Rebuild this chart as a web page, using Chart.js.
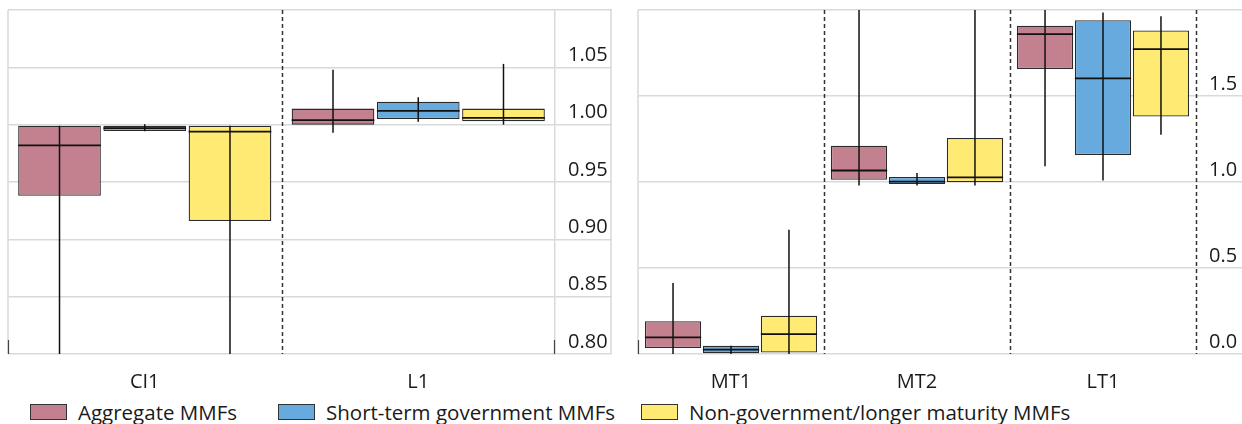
<!DOCTYPE html>
<html>
<head>
<meta charset="utf-8">
<script src="https://cdn.jsdelivr.net/npm/chart.js@4/dist/chart.umd.min.js"></script>
<style>
  body { margin: 0; background: #fff; font-family: "Open Sans", sans-serif; color: #1a1a1a; }
  #wrap { position: relative; width: 1242px; height: 424px; }
  .panel { position: absolute; top: 0; height: 392px; }
  .item { position: absolute; top: 399px; font-size: 20.5px; line-height: 26px; white-space: nowrap; }
  .item span.sw { position: absolute; left: 0; top: 5px; width: 35px; height: 14px; border: 1px solid #333; }
  .item span.tx { margin-left: 48px; }
</style>
</head>
<body>
<div id="wrap">
  <div class="panel" style="left:0;width:612px"><canvas id="left"></canvas></div>
  <div class="panel" style="left:630px;width:612px"><canvas id="right"></canvas></div>
  <div class="item" style="left:30px"><span class="sw" style="background:#c3808e"></span><span class="tx">Aggregate MMFs</span></div>
  <div class="item" style="left:278px"><span class="sw" style="background:#66aade"></span><span class="tx">Short-term government MMFs</span></div>
  <div class="item" style="left:641px"><span class="sw" style="background:#ffeb73"></span><span class="tx">Non-government/longer maturity MMFs</span></div>
</div>
<script>
const categories = ['CI1', 'L1', 'MT1', 'MT2', 'LT1'];

// Aggregate MMFs
const aggMin = [0.70, 0.993, 0.000, 0.980, 1.091];
const aggQ1  = [0.938, 1.000, 0.035, 1.013, 1.657];
const aggMed = [0.982, 1.004, 0.097, 1.067, 1.860];
const aggQ3  = [0.999, 1.014, 0.190, 1.211, 1.909];
const aggMax = [0.999, 1.048, 0.413, 2.30, 2.10];

// Short-term government MMFs
const stgMin = [0.9942, 1.0026, 0.000, 0.980, 1.008];
const stgQ1  = [0.9944, 1.005, 0.000, 0.988, 1.157];
const stgMed = [0.997, 1.012, 0.025, 1.002, 1.602];
const stgQ3  = [0.999, 1.020, 0.048, 1.029, 1.940];
const stgMax = [1.0003, 1.024, 0.048, 1.052, 1.986];

// Non-government/longer maturity MMFs
const ngMin = [0.70, 1.000, 0.000, 0.980, 1.275];
const ngQ1  = [0.916, 1.003, 0.009, 0.998, 1.381];
const ngMed = [0.994, 1.006, 0.116, 1.027, 1.773];
const ngQ3  = [0.999, 1.014, 0.223, 1.256, 1.881];
const ngMax = [0.999, 1.053, 0.723, 2.40, 1.963];

const leftTicks = [0.80, 0.85, 0.90, 0.95, 1.00, 1.05];
const rightTicks = [0.0, 0.5, 1.0, 1.5];

const series = [
  { label: 'Aggregate MMFs', color: '#c3808e', min: aggMin, q1: aggQ1, med: aggMed, q3: aggQ3, max: aggMax },
  { label: 'Short-term government MMFs', color: '#66aade', min: stgMin, q1: stgQ1, med: stgMed, q3: stgQ3, max: stgMax },
  { label: 'Non-government/longer maturity MMFs', color: '#ffeb73', min: ngMin, q1: ngQ1, med: ngMed, q3: ngQ3, max: ngMax }
];

const gridCol = '#d9d9d9';
const font = { family: 'Open Sans', size: 20 };

function makeDatasets(from, to) {
  return series.map(s => ({
    label: s.label,
    data: s.q1.slice(from, to).map((v, i) => [v, s.q3[from + i]]),
    lo: s.min.slice(from, to),
    mid: s.med.slice(from, to),
    hi: s.max.slice(from, to),
    backgroundColor: s.color,
    borderColor: '#2b2b2b',
    borderWidth: 1.3,
    borderSkipped: false,
    categoryPercentage: 0.935,
    barPercentage: 0.97
  }));
}

// whiskers, medians, dashed category dividers
const boxPlugin = {
  id: 'boxes',
  beforeDatasetsDraw(chart, args, opts) {
    const { ctx, chartArea: a, scales: { y } } = chart;
    ctx.save();
    ctx.strokeStyle = gridCol;
    ctx.lineWidth = 1.5;
    ctx.beginPath();
    ctx.moveTo(a.left, a.top); ctx.lineTo(a.left, a.bottom);
    if (opts.outer) { ctx.moveTo(y.right - 1, a.top); ctx.lineTo(y.right - 1, a.bottom); }
    ctx.stroke();
    ctx.restore();
  },
  afterDatasetsDraw(chart, args, opts) {
    const { ctx, chartArea: a, scales: { x, y } } = chart;
    ctx.save();
    ctx.beginPath();
    ctx.rect(a.left, a.top, a.right - a.left, a.bottom - a.top);
    ctx.clip();
    ctx.strokeStyle = '#111';
    chart.data.datasets.forEach((ds, i) => {
      chart.getDatasetMeta(i).data.forEach((bar, j) => {
        const p = bar.getProps(['x', 'width'], true);
        ctx.lineWidth = 1.5;
        ctx.beginPath();
        ctx.moveTo(p.x, y.getPixelForValue(ds.lo[j]));
        ctx.lineTo(p.x, y.getPixelForValue(ds.hi[j]));
        ctx.stroke();
        ctx.lineWidth = 1.8;
        const m = y.getPixelForValue(ds.mid[j]);
        ctx.beginPath();
        ctx.moveTo(p.x - p.width / 2, m);
        ctx.lineTo(p.x + p.width / 2, m);
        ctx.stroke();
      });
    });
    ctx.restore();

    // dividers
    const n = chart.data.labels.length;
    ctx.save();
    ctx.strokeStyle = '#333';
    ctx.lineWidth = 1.5;
    ctx.setLineDash([4, 3]);
    (opts.dividers || []).forEach(k => {
      const px = k >= n ? a.right : (x.getPixelForValue(k - 1) + x.getPixelForValue(k)) / 2;
      ctx.beginPath();
      ctx.moveTo(Math.round(px) + 0.5, a.top);
      ctx.lineTo(Math.round(px) + 0.5, a.bottom);
      ctx.stroke();
    });
    ctx.setLineDash([]);
    ctx.strokeStyle = '#444';
    ctx.lineWidth = 1.2;
    ctx.beginPath();
    ctx.moveTo(a.left + 0.5, a.bottom - 14); ctx.lineTo(a.left + 0.5, a.bottom);
    if (opts.outer) { ctx.moveTo(a.right - 0.5, a.bottom - 14); ctx.lineTo(a.right - 0.5, a.bottom); }
    ctx.stroke();
    ctx.restore();
  }
};

function makeChart(id, from, to, yMin, yMax, ticks, digits, axisW, opts) {
  return new Chart(document.getElementById(id), {
    type: 'bar',
    data: { labels: categories.slice(from, to), datasets: makeDatasets(from, to) },
    plugins: [boxPlugin],
    options: {
      responsive: true,
      maintainAspectRatio: false,
      animation: false,
      layout: { padding: { left: 8, top: 10, right: 0, bottom: 0 } },
      plugins: { legend: { display: false }, tooltip: { enabled: false }, boxes: opts },
      scales: {
        x: {
          grid: { display: false },
          border: { display: false },
          ticks: { font: font, color: '#1a1a1a', padding: 8 },
          afterFit: s => { s.height = 38; }
        },
        y: {
          position: 'right',
          min: yMin,
          max: yMax,
          afterBuildTicks: s => { s.ticks = ticks.concat([yMax]).map(v => ({ value: v })); },
          grid: { color: gridCol, lineWidth: 1.5, tickColor: gridCol, tickLength: axisW, drawTicks: true },
          border: { display: opts.outer, color: gridCol, width: 1.5 },
          ticks: {
            font: font,
            color: '#1a1a1a',
            padding: -(axisW - 13),
            labelOffset: -12,
            callback: v => v >= yMax - 1e-9 ? '' : v.toFixed(digits)
          },
          afterFit: s => { s.width = axisW; }
        }
      }
    }
  });
}

makeChart('left', 0, 2, 0.80, 1.10, leftTicks, 2, 57, { dividers: [1], outer: true });
makeChart('right', 2, 5, 0.0, 2.0, rightTicks, 1, 46, { dividers: [1, 2, 3], outer: false });
</script>
</body>
</html>
